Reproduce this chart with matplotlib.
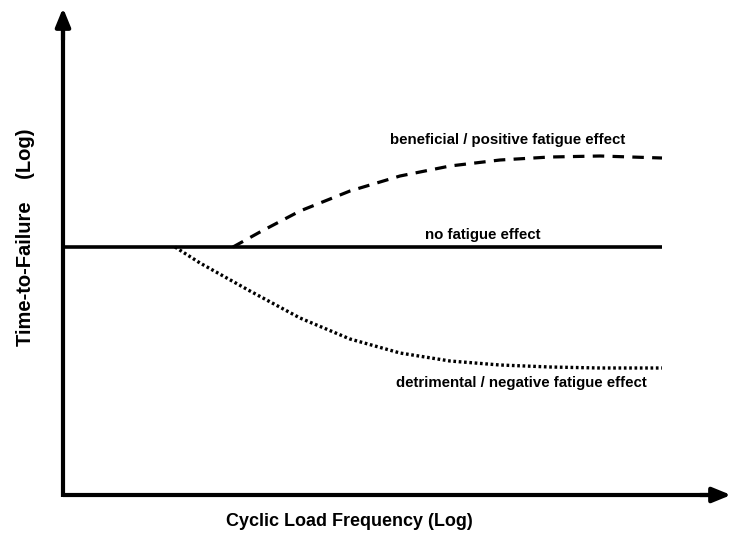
import matplotlib
matplotlib.use('Agg')
import matplotlib.pyplot as plt

plt.rcParams['font.family'] = ['Liberation Sans', 'DejaVu Sans']

# schematic curves (pixel-like units, y downwards)
none_x = [63, 662]
none_y = [247, 247]
good_x = [233, 260, 300, 350, 400, 450, 500, 550, 600, 662]
good_y = [247, 232, 211, 191, 176, 166, 160, 157, 156, 158]
bad_x = [175, 200, 250, 300, 350, 400, 450, 500, 550, 600, 662]
bad_y = [247, 263, 291, 318, 339, 353, 361, 365, 367, 368, 368]

labels = ['beneficial / positive fatigue effect', 'no fatigue effect',
          'detrimental / negative fatigue effect']
xlabel = 'Cyclic Load Frequency (Log)'
ylabel = 'Time-to-Failure    (Log)'

fig = plt.figure(figsize=(7.33, 5.33), dpi=100)
ax = fig.add_axes([0, 0, 1, 1])
ax.set_xlim(0, 733)
ax.set_ylim(533, 0)
ax.axis('off')

# axes with arrows
ax.plot([63, 63], [497, 30], color='black', lw=3, solid_capstyle='butt')
ax.plot([63, 710], [495, 495], color='black', lw=3, solid_capstyle='butt')
ax.annotate('', xy=(63, 8), xytext=(63, 40),
            arrowprops=dict(arrowstyle='-|>,head_length=1.1,head_width=0.45', lw=3, color='black', shrinkA=0, shrinkB=0))
ax.annotate('', xy=(731, 495), xytext=(700, 495),
            arrowprops=dict(arrowstyle='-|>,head_length=1.1,head_width=0.45', lw=3, color='black', shrinkA=0, shrinkB=0))

ax.plot(none_x, none_y, color='black', lw=2.6, solid_capstyle='butt')
ax.plot(good_x, good_y, color='black', lw=2.3, linestyle=(0, (3.6, 2.6)))
ax.plot(bad_x, bad_y, color='black', lw=2.4, linestyle=(0, (0.8, 0.8)))

ax.text(508, 140, labels[0], ha='center', va='center', fontsize=10.8, fontweight='bold')
ax.text(483, 235, labels[1], ha='center', va='center', fontsize=10.8, fontweight='bold')
ax.text(521, 383, labels[2], ha='center', va='center', fontsize=10.8, fontweight='bold')

ax.text(349, 521, xlabel, ha='center', va='center', fontsize=13, fontweight='bold')
ax.text(26, 237, ylabel, ha='center', va='center', fontsize=14.5, fontweight='bold', rotation=90)

plt.savefig('out.png', dpi=100)
